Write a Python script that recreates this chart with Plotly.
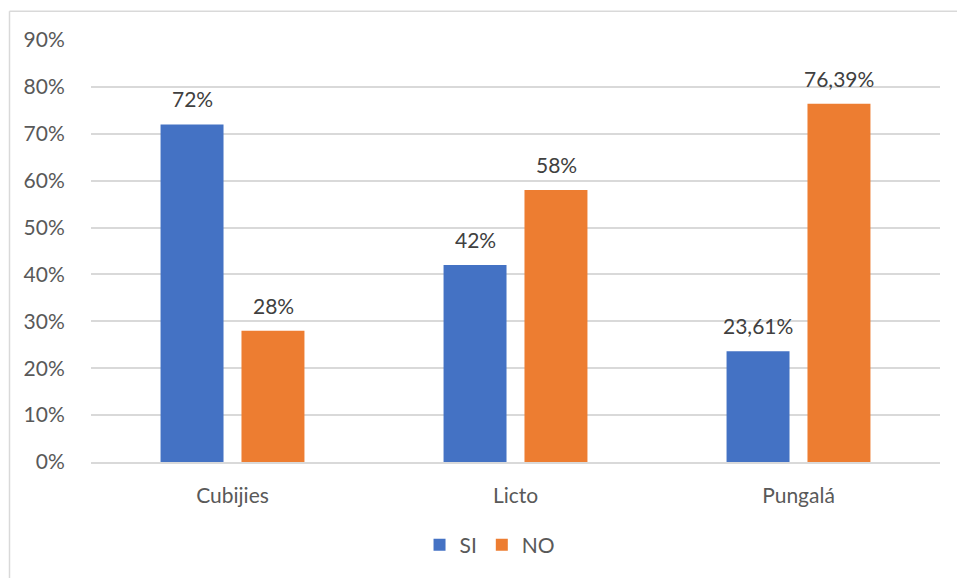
import plotly.graph_objects as go

categories = ["Cubijies", "Licto", "Pungalá"]
si_values = [72, 42, 23.61]
no_values = [28, 58, 76.39]
si_labels = ["72%", "42%", "23,61%"]
no_labels = ["28%", "58%", "76,39%"]
y_ticks = [0, 10, 20, 30, 40, 50, 60, 70, 80, 90]
y_tick_labels = [f"{v}%" for v in y_ticks]

W, H = 957, 578
ml, mr, mt, mb = 91, 17, 40, 114
pw, ph = W - ml - mr, H - mt - mb

font_family = "Lato, Open Sans, sans-serif"
FS = 21

fig = go.Figure()
fig.add_trace(go.Bar(name="SI", x=categories, y=si_values, marker_color="#4472C4",
                     marker_line_width=0))
fig.add_trace(go.Bar(name="NO", x=categories, y=no_values, marker_color="#ED7D31",
                     marker_line_width=0))

annotations = []
for cat, v, t in zip(categories, si_values, si_labels):
    annotations.append(dict(x=cat, y=v, text=t, xref="x", yref="y", showarrow=False,
                            yanchor="bottom", xanchor="center", xshift=-40.5, yshift=11,
                            font=dict(size=FS, color="#404040")))
for cat, v, t in zip(categories, no_values, no_labels):
    annotations.append(dict(x=cat, y=v, text=t, xref="x", yref="y", showarrow=False,
                            yanchor="bottom", xanchor="center", xshift=40.5, yshift=11,
                            font=dict(size=FS, color="#404040")))

fig.update_layout(
    width=W, height=H,
    margin=dict(l=ml, r=mr, t=mt, b=mb),
    paper_bgcolor="white", plot_bgcolor="white",
    barmode="group", bargap=0.428, bargroupgap=0.222,
    font=dict(family=font_family, size=FS, color="#595959"),
    showlegend=True,
    legend=dict(orientation="h", x=0.47, xanchor="center", y=-0.197, yanchor="middle",
                font=dict(size=FS, color="#595959"), itemwidth=30, traceorder="normal"),
    annotations=annotations,
    shapes=[
        dict(type="line", xref="paper", yref="paper",
             x0=(9.5 - ml) / pw, x1=(W + 5 - ml) / pw,
             y0=1 + (11 - mt) / -ph, y1=1 + (11 - mt) / -ph,
             line=dict(color="#D9D9D9", width=1.5)),
        dict(type="line", xref="paper", yref="paper",
             x0=(9.5 - ml) / pw, x1=(9.5 - ml) / pw,
             y0=1 + (11 - mt) / -ph, y1=-(H + 5 - (H - mb)) / ph,
             line=dict(color="#D9D9D9", width=1.5)),
    ],
)
fig.update_xaxes(showgrid=False, showline=True, linecolor="#D9D9D9", linewidth=1.5,
                 ticks="outside", ticklen=14, tickcolor="rgba(0,0,0,0)",
                 tickfont=dict(size=FS, color="#595959"))
fig.update_yaxes(range=[0, 90], tickvals=y_ticks, ticktext=y_tick_labels,
                 showgrid=True, gridcolor="#D9D9D9", gridwidth=1.5,
                 zeroline=False, showline=False,
                 ticks="outside", ticklen=21, tickcolor="rgba(0,0,0,0)",
                 tickfont=dict(size=FS, color="#595959"))

fig.write_html("out.html")
